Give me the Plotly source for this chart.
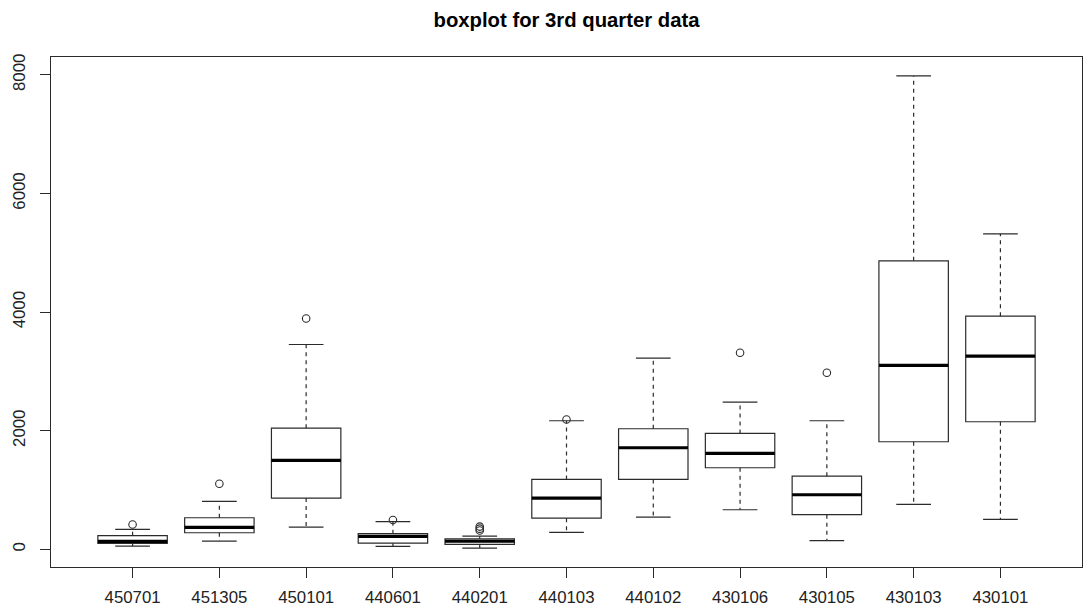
import plotly.graph_objects as go

# Quarterly summary statistics per region code
codes = ["450701", "451305", "450101", "440601", "440201", "440103",
         "440102", "430106", "430105", "430103", "430101"]
lower_whisker = [56, 140, 376, 51, 22, 286, 544, 669, 147, 758, 506]
q1 = [101, 281, 865, 106, 84, 527, 1180, 1377, 585, 1815, 2152]
median = [135, 371, 1500, 219, 140, 865, 1714, 1618, 922, 3101, 3258]
q3 = [231, 534, 2044, 265, 180, 1180, 2034, 1955, 1235, 4865, 3932]
upper_whisker = [337, 809, 3455, 470, 224, 2169, 3224, 2482, 2169, 7983, 5320]
outliers = [[421], [1107], [3893], [495], [385, 350, 320], [2191], [], [3315], [2978], [], []]

positions = list(range(1, len(codes) + 1))
BOX_W = 0.8
CAP_W = 0.4
LINE = "#2b2b2b"
FONT = "Liberation Sans, Arial, sans-serif"

fig = go.Figure()

# dashed whiskers from the box edges to the extremes
wx, wy = [], []
for p, a, b, c, d in zip(positions, lower_whisker, q1, q3, upper_whisker):
    wx += [p, p, None, p, p, None]
    wy += [c, d, None, b, a, None]
fig.add_trace(go.Scatter(x=wx, y=wy, mode="lines", hoverinfo="skip",
                         line=dict(color=LINE, width=1.2, dash="4px,4px")))

# whisker caps
cx, cy = [], []
for p, a, d in zip(positions, lower_whisker, upper_whisker):
    for v in (a, d):
        cx += [p - CAP_W / 2, p + CAP_W / 2, None]
        cy += [v, v, None]
fig.add_trace(go.Scatter(x=cx, y=cy, mode="lines", hoverinfo="skip",
                         line=dict(color=LINE, width=1.2)))

# boxes (interquartile range)
fig.add_trace(go.Box(x=positions, q1=q1, median=median, q3=q3,
                     lowerfence=q1, upperfence=q3, width=BOX_W,
                     whiskerwidth=0, fillcolor="white",
                     line=dict(color=LINE, width=1.2), boxpoints=False))

# thick median bars
mx, my = [], []
for p, m in zip(positions, median):
    mx += [p - BOX_W / 2, p + BOX_W / 2, None]
    my += [m, m, None]
fig.add_trace(go.Scatter(x=mx, y=my, mode="lines", hoverinfo="skip",
                         line=dict(color="black", width=3.2)))

# outliers
ox, oy = [], []
for p, vals in zip(positions, outliers):
    for v in vals:
        ox.append(p)
        oy.append(v)
fig.add_trace(go.Scatter(x=ox, y=oy, mode="markers",
                         marker=dict(symbol="circle-open", size=7.5,
                                     color=LINE, line=dict(width=1.1))))

# axis limits padded by 4% like base graphics
lo = min(lower_whisker + [v for vs in outliers for v in vs])
hi = max(upper_whisker + [v for vs in outliers for v in vs])
pad = (hi - lo) * 0.04
xlo, xhi = 0.5, len(codes) + 0.5
xpad = (xhi - xlo) * 0.04

fig.update_layout(
    width=1089, height=610,
    margin=dict(l=51, r=7, t=57, b=43),
    paper_bgcolor="white", plot_bgcolor="white",
    showlegend=False,
    font=dict(family=FONT, color="black", size=16),
    title=dict(text="<b>boxplot for 3rd quarter data</b>", x=0.5, xref="paper",
               xanchor="center", y=1 - 20 / 610, yanchor="middle",
               font=dict(family=FONT, size=20.3, color="black")),
)
fig.update_xaxes(
    range=[xlo - xpad, xhi + xpad], tickmode="array", tickvals=positions,
    ticktext=codes, ticks="outside", ticklen=10, tickcolor=LINE,
    showline=True, linecolor=LINE, linewidth=1, mirror=True,
    showgrid=False, zeroline=False, ticklabelstandoff=5, automargin=False,
    tickfont=dict(family=FONT, size=16.8, color="#222"),
)
fig.update_yaxes(
    range=[lo - pad, hi + pad], tickmode="array",
    tickvals=[0, 2000, 4000, 6000, 8000], ticks="outside", ticklen=10,
    tickcolor=LINE, tickangle=-90,
    showline=True, linecolor=LINE, linewidth=1, mirror=True,
    showgrid=False, zeroline=False, ticklabelstandoff=8, automargin=False,
    tickfont=dict(family=FONT, size=16.8, color="#222"),
)

fig.write_html("out.html")
